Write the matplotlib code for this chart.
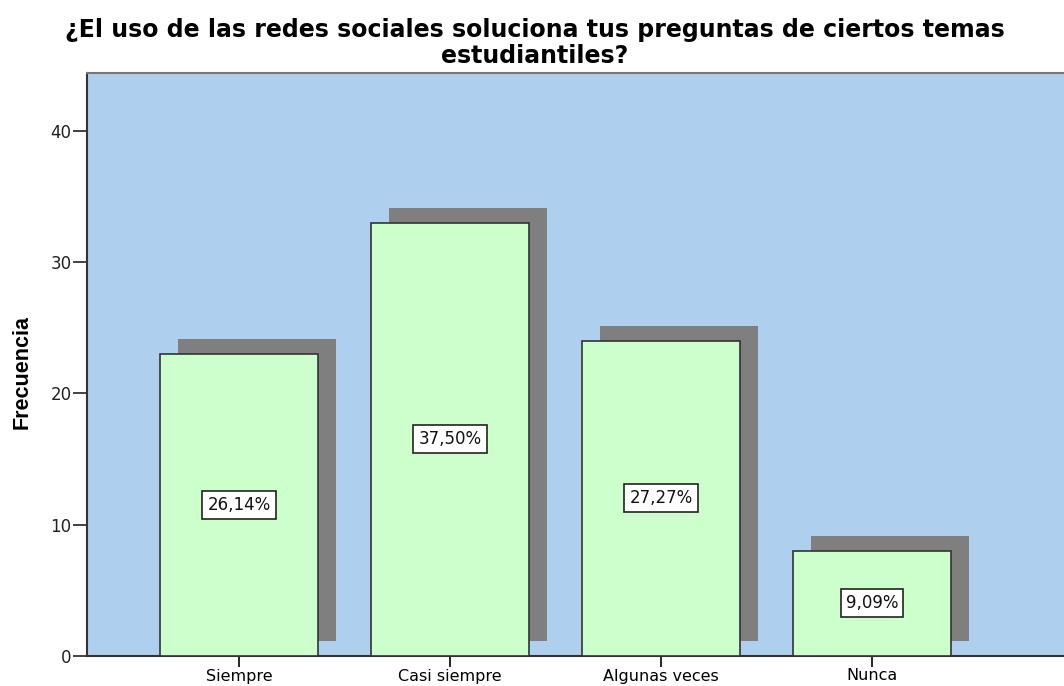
import matplotlib.pyplot as plt
import matplotlib.patheffects as pe

categories = ['Siempre', 'Casi siempre', 'Algunas veces', 'Nunca']
frequencies = [23, 33, 24, 8]
percent_labels = ['26,14%', '37,50%', '27,27%', '9,09%']
y_ticks = [0, 10, 20, 30, 40]

plt.rcParams['font.family'] = ['DejaVu Sans']

fig = plt.figure(figsize=(10.64, 6.86), dpi=100)
ax = fig.add_axes([87 / 1064, 30 / 686, 977 / 1064, 583 / 686])
ax.set_facecolor('#aecfee')

positions = list(range(len(categories)))

# grey drop shadow behind each bar, offset up and to the right
shadow = pe.SimplePatchShadow(offset=(13, 10.8), shadow_rgbFace='#7f7f7f', alpha=1.0)
bars = ax.bar(positions, frequencies, width=0.75, color='#ccffcc',
              edgecolor='#333333', linewidth=1.2, zorder=3)
for b in bars:
    b.set_path_effects([shadow, pe.Normal()])

for x, f, lab in zip(positions, frequencies, percent_labels):
    ax.text(x, f / 2, lab, ha='center', va='center', fontsize=12, color='#111111', zorder=5,
            bbox=dict(boxstyle='square,pad=0.3', facecolor='white', edgecolor='#222222', linewidth=1.2))

ax.set_xlim(-0.72, 3.91)
ax.set_ylim(0, 44.4)
ax.set_yticks(y_ticks)
ax.set_xticks(positions)
ax.set_xticklabels(categories, fontsize=11.5)
ax.tick_params(axis='y', length=10, width=1.2, labelsize=12, colors='#222222', pad=1)
ax.tick_params(axis='x', length=8, width=1.2, pad=1)

for side in ['left', 'bottom']:
    ax.spines[side].set_color('#333333')
    ax.spines[side].set_linewidth(1.5)
ax.spines['top'].set_color('#777777')
ax.spines['top'].set_linewidth(1.5)
ax.spines['right'].set_visible(False)

fig.text(22 / 1064, 1 - 372 / 686, 'Frecuencia', rotation=90, ha='center', va='center',
         fontsize=15.5, fontweight='bold', family='Liberation Sans')
fig.text(535 / 1064, 1 - 18 / 686,
         '¿El uso de las redes sociales soluciona tus preguntas de ciertos temas\nestudiantiles?',
         ha='center', va='top', fontsize=17, fontweight='bold', linespacing=1.1)

fig.savefig('out.png', dpi=100)
